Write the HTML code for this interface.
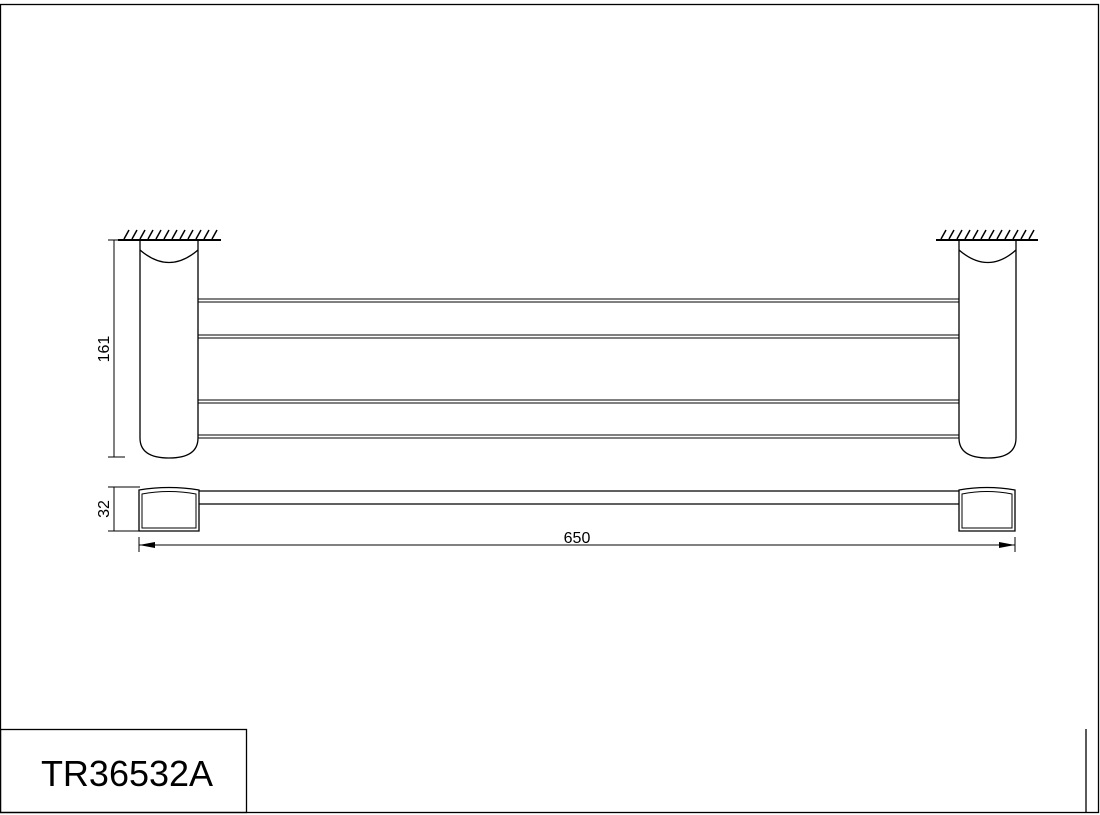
<!DOCTYPE html>
<html><head><style>body{margin:0;background:#fff}svg{display:block}</style></head><body>
<svg width="1100" height="815" viewBox="0 0 1100 815" xmlns="http://www.w3.org/2000/svg" font-family="Liberation Sans, sans-serif">
<g fill="none" stroke="#000" stroke-width="1.3">
<rect x="0.5" y="4.5" width="1098" height="808"/>
<rect x="0.5" y="729.5" width="246" height="83"/>
<line x1="1086" y1="729" x2="1086" y2="812"/>
<line x1="118" y1="240" x2="221" y2="240" stroke-width="2"/>
<line x1="936" y1="240" x2="1038" y2="240" stroke-width="2"/>
<g stroke-width="1.5">
<path d="M124 239l5-9M132 239l5-9M140 239l5-9M148 239l5-9M156 239l5-9M164 239l5-9M172 239l5-9M180 239l5-9M188 239l5-9M196 239l5-9M204 239l5-9M212 239l5-9"/>
<path d="M941 239l5-9M949 239l5-9M957 239l5-9M965 239l5-9M973 239l5-9M981 239l5-9M989 239l5-9M997 239l5-9M1005 239l5-9M1013 239l5-9M1021 239l5-9M1029 239l5-9"/>
</g>
<path d="M140 240V438Q140 458 169 458Q198 458 198 438V240"/>
<path d="M140 250Q169 275 198 250"/>
<path d="M959 240V438Q959 458 988 458Q1016 458 1016 438V240"/>
<path d="M959 250Q988 275 1016 250"/>
<g stroke-width="1">
<line x1="198" y1="299" x2="959" y2="299"/><line x1="198" y1="302" x2="959" y2="302"/>
<line x1="198" y1="335" x2="959" y2="335"/><line x1="198" y1="338" x2="959" y2="338"/>
<line x1="198" y1="400" x2="959" y2="400"/><line x1="198" y1="403" x2="959" y2="403"/>
<line x1="198" y1="435" x2="959" y2="435"/><line x1="198" y1="438" x2="959" y2="438"/>
</g>
<path d="M139 490Q169 485 199 490V531H139Z"/>
<path d="M142 494Q169 489 196 494V528H142Z" stroke-width="1"/>
<path d="M959 490Q987 485 1015 490V531H959Z"/>
<path d="M962 494Q987 489 1012 494V528H962Z" stroke-width="1"/>
<line x1="199" y1="491" x2="959" y2="491"/>
<line x1="199" y1="504" x2="959" y2="504"/>
<g stroke-width="1">
<line x1="108" y1="240" x2="140" y2="240"/><line x1="108" y1="457" x2="125" y2="457"/>
<line x1="114" y1="240" x2="114" y2="457"/>
<line x1="108" y1="487" x2="140" y2="487"/><line x1="108" y1="531" x2="140" y2="531"/>
<line x1="114" y1="487" x2="114" y2="531"/>
<line x1="139" y1="537" x2="139" y2="552"/><line x1="1015" y1="537" x2="1015" y2="552"/>
<line x1="139" y1="545" x2="1015" y2="545"/>
</g>
</g>
<path d="M139 545l16-3v6z M1015 545l-16-3v6z" fill="#000"/>
<text x="109" y="349" font-size="16" text-anchor="middle" transform="rotate(-90 109 349)">161</text>
<text x="109" y="509" font-size="16" text-anchor="middle" transform="rotate(-90 109 509)">32</text>
<text x="577" y="543" font-size="16" text-anchor="middle">650</text>
<text x="127" y="786" font-size="36" text-anchor="middle">TR36532A</text>
</svg>
</body></html>
